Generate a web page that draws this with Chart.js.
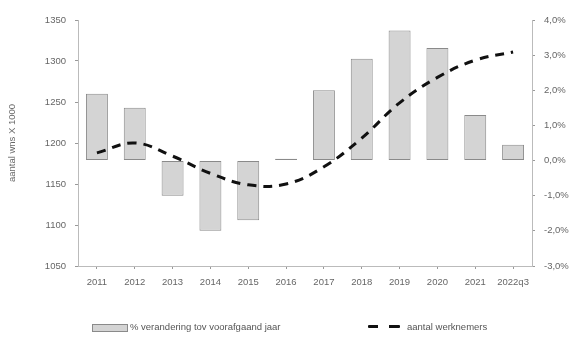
<!DOCTYPE html>
<html>
<head>
<meta charset="utf-8">
<script src="https://cdn.jsdelivr.net/npm/chart.js@4"></script>
<style>
  body { margin: 0; background: #fff; }
  #wrap { position: relative; width: 573px; height: 338px; }
  .leg { position: absolute; top: 321px; font: 9.5px "Liberation Sans", Arial, sans-serif; color: #555; white-space: nowrap; }
  .sw-bar { position: absolute; left: 92px; top: 324px; width: 34px; height: 6px; background: #d4d4d4; border: 1px solid #8a8a8a; }
  .sw-line { position: absolute; left: 368px; top: 325px; width: 32px; height: 3px;
    background: linear-gradient(to right, #111 0 10px, transparent 10px 21px, #111 21px 32px); border-radius: 1px; }
</style>
</head>
<body>
<div id="wrap">
  <canvas id="myChart" width="573" height="338"></canvas>
  <div class="sw-bar"></div>
  <div class="leg" style="left:130px">% verandering tov voorafgaand jaar</div>
  <div class="sw-line"></div>
  <div class="leg" style="left:407px">aantal werknemers</div>
</div>
<script>
const labels = ['2011', '2012', '2013', '2014', '2015', '2016', '2017', '2018', '2019', '2020', '2021', '2022q3'];
const pctChange = [1.9, 1.5, -1.0, -2.0, -1.7, 0.05, 2.0, 2.9, 3.7, 3.2, 1.3, 0.45];
const employees = [1188, 1200, 1184, 1163, 1149, 1150, 1171, 1206, 1249, 1280, 1301, 1311];

const tickFont = { family: '"Liberation Sans", Arial, sans-serif', size: 9.5 };
const tickColor = '#666';

const ctx = document.querySelector('#myChart').getContext('2d');

const data = {
    labels,
    datasets: [{
        type: 'line',
        label: 'aantal werknemers',
        data: employees,
        yAxisID: 'y',
        borderColor: '#111',
        borderWidth: 3,
        borderDash: [9, 7],
        tension: 0.4,
        pointRadius: 0,
        fill: false,
        order: 0,
    }, {
        type: 'bar',
        label: '% verandering tov voorafgaand jaar',
        data: pctChange,
        yAxisID: 'y1',
        backgroundColor: '#d4d4d4',
        borderColor: '#8a8a8a',
        borderWidth: 1,
        borderSkipped: false,
        barPercentage: 0.58,
        categoryPercentage: 1,
        order: 1,
    }],
};

const config = {
    data: data,
    options: {
        responsive: false,
        animation: false,
        layout: { padding: { top: 20, left: 0, right: 0, bottom: 0 } },
        plugins: {
            legend: { display: false },
            tooltip: { enabled: false },
        },
        scales: {
            x: {
                offset: true,
                grid: { offset: false, drawOnChartArea: false, drawTicks: true, tickLength: 3, color: '#999' },
                border: { color: '#bbb' },
                ticks: { font: tickFont, color: tickColor, padding: 8, maxRotation: 0 },
                afterFit: (s) => { s.height = 72; },
            },
            y: {
                position: 'left',
                min: 1050,
                max: 1350,
                grid: { drawOnChartArea: false, drawTicks: true, tickLength: 3, color: '#999' },
                border: { color: '#bbb' },
                ticks: { stepSize: 50, font: tickFont, color: tickColor, padding: 9, callback: (v) => String(v) },
                title: { display: true, text: 'aantal wns X 1000', font: tickFont, color: tickColor, padding: { top: 7, bottom: 0 } },
                afterFit: (s) => { s.width = 78; },
            },
            y1: {
                position: 'right',
                min: -3,
                max: 4,
                grid: { drawOnChartArea: false, drawTicks: true, tickLength: 3, color: '#999' },
                border: { color: '#bbb' },
                ticks: {
                    stepSize: 1,
                    font: tickFont,
                    color: tickColor,
                    padding: 9,
                    callback: (v) => v.toFixed(1).replace('.', ',') + '%',
                },
                afterFit: (s) => { s.width = 41; },
            },
        },
    },
};

const myChart = new Chart(ctx, config);
</script>
</body>
</html>
